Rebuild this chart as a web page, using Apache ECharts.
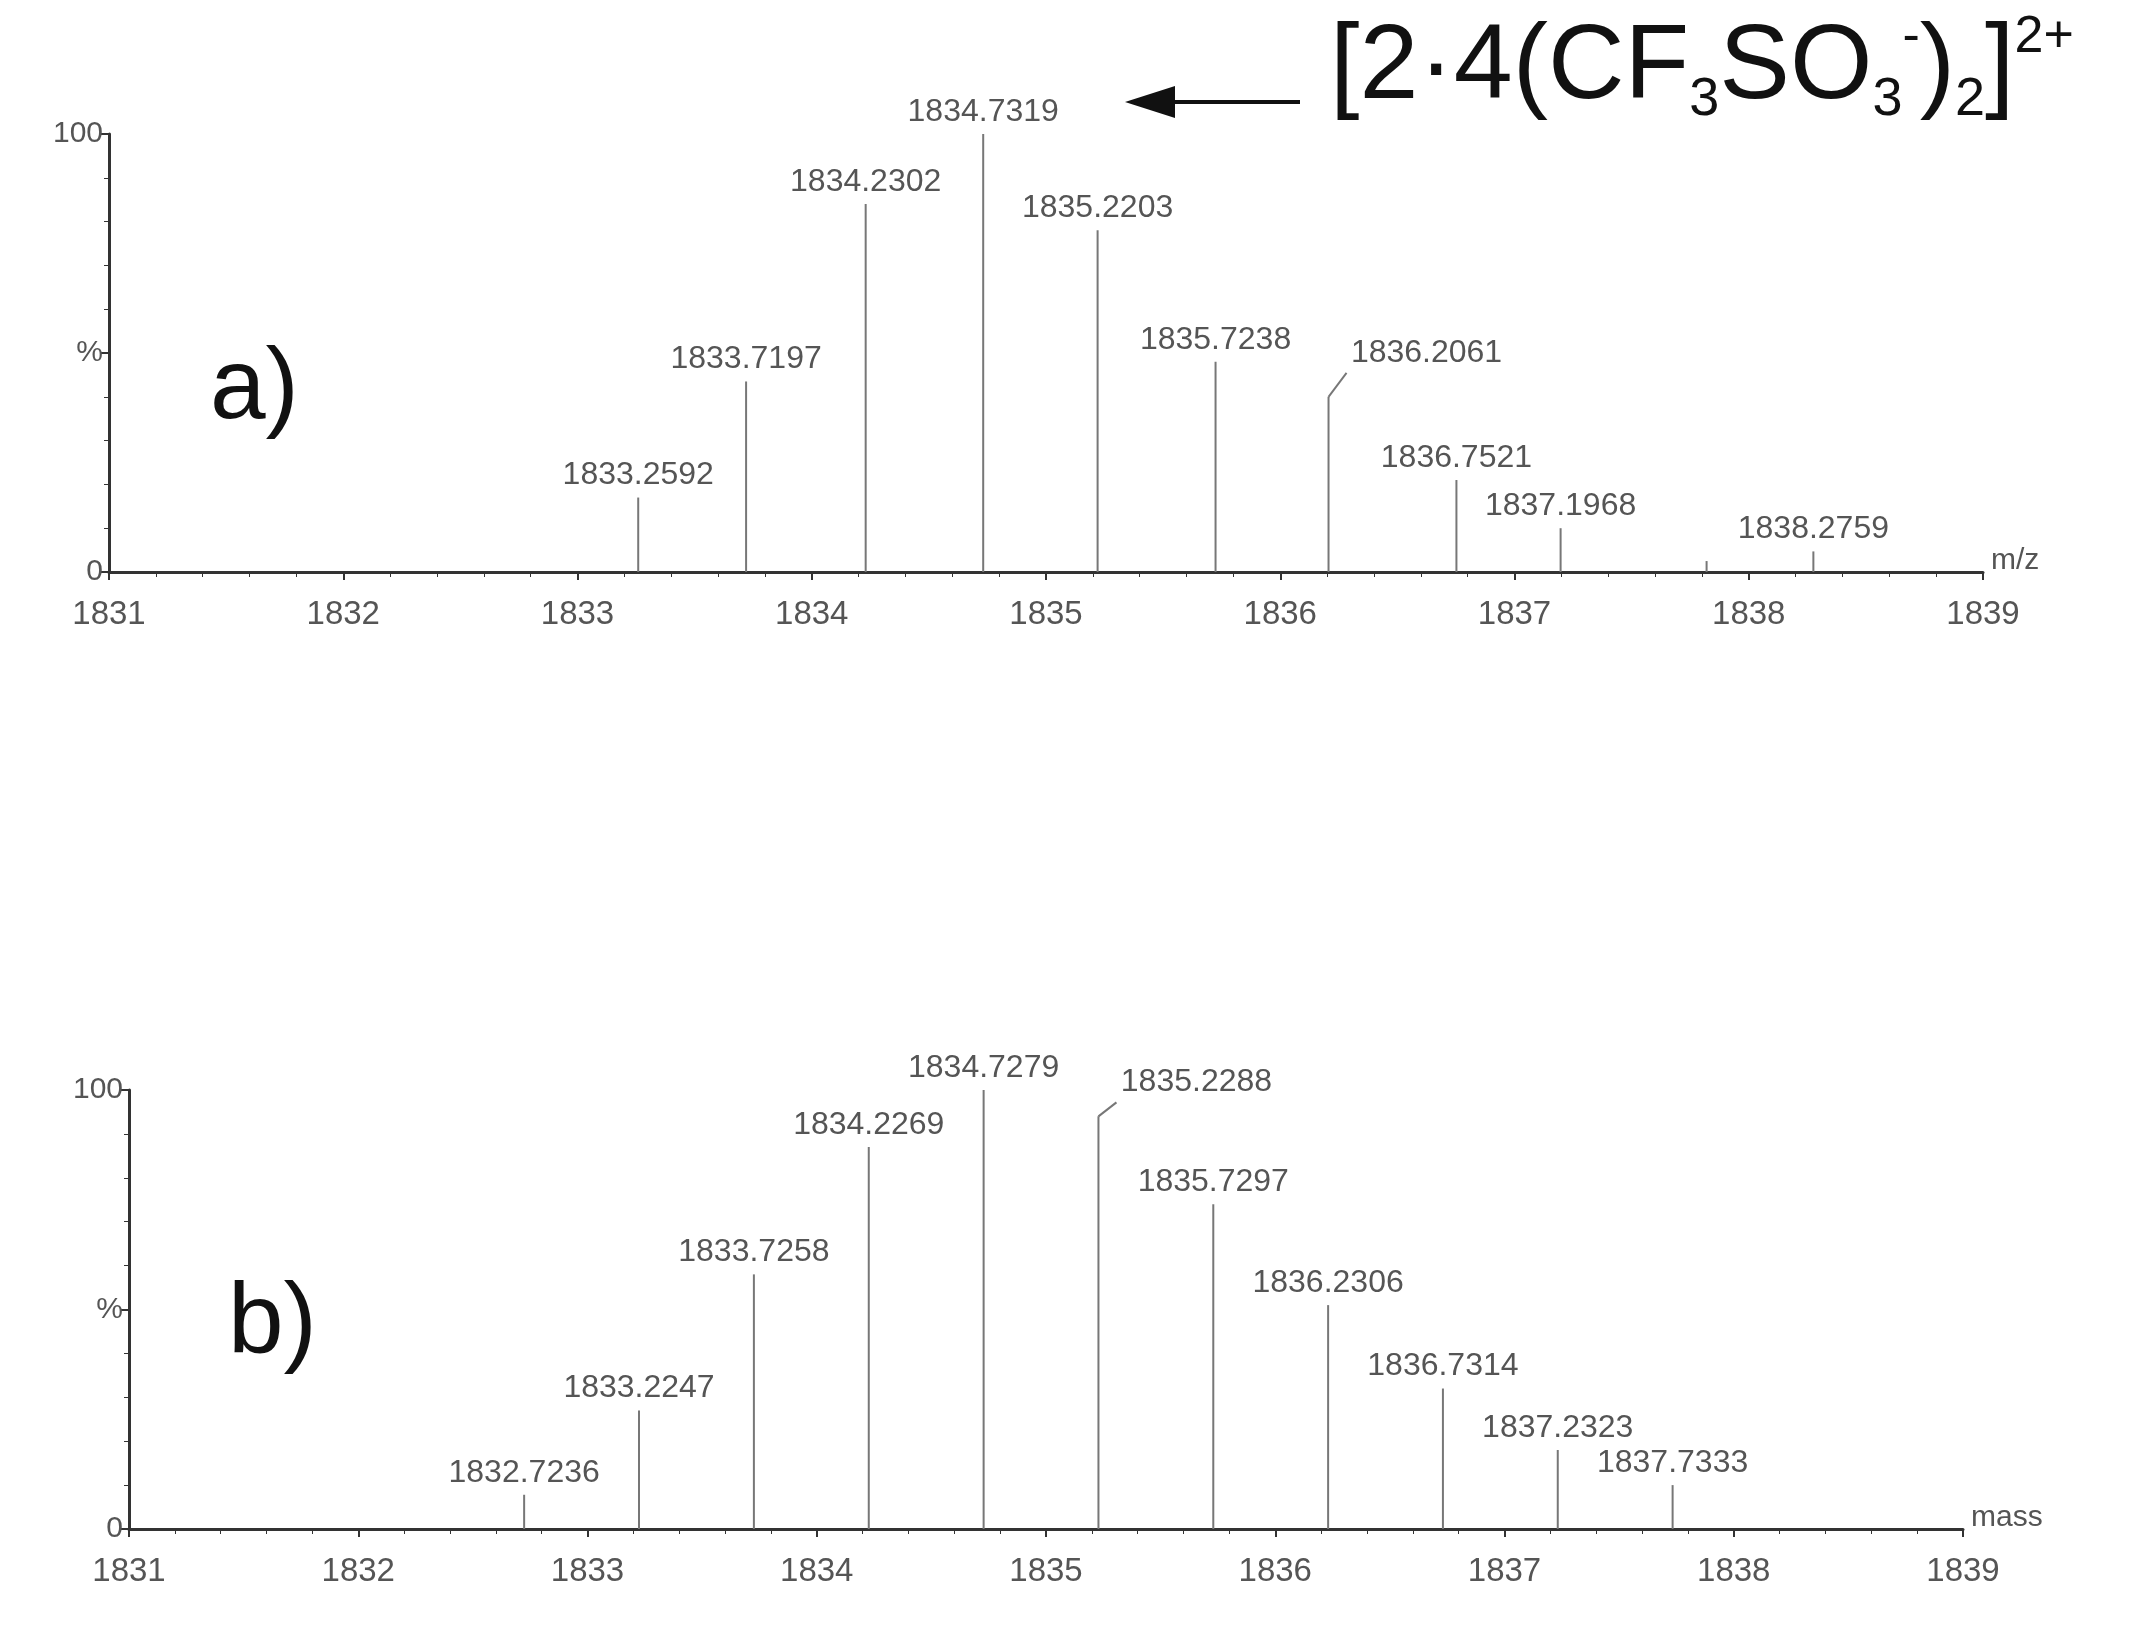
<!DOCTYPE html>
<html><head><meta charset="utf-8">
<script src="https://cdn.jsdelivr.net/npm/echarts@6/dist/echarts.min.js"></script>
<style>html,body{margin:0;background:#fff}#c{width:2137px;height:1633px}</style>
</head><body><div id="c"></div>
<script>
const massA = [1833.2592,1833.7197,1834.2302,1834.7319,1835.2203,1835.7238,1836.2061,1836.7521,1837.1968,1837.82,1838.2759];
const intA  = [17,43.5,84,100,78,48,40,21,10,2.5,4.7];
const labelA = ['1833.2592','1833.7197','1834.2302','1834.7319','1835.2203','1835.7238','1836.2061','1836.7521','1837.1968','','1838.2759'];
const massB = [1832.7236,1833.2247,1833.7258,1834.2269,1834.7279,1835.2288,1835.7297,1836.2306,1836.7314,1837.2323,1837.7333];
const intB  = [7.8,27,58,87,100,94,74,51,32,18,10];
const labelB = ['1832.7236','1833.2247','1833.7258','1834.2269','1834.7279','1835.2288','1835.7297','1836.2306','1836.7314','1837.2323','1837.7333'];

const FONT = 'Liberation Sans';
const GRAY = '#555';
function xAxis(idx, name){return {gridIndex:idx,type:'value',min:1831,max:1839,interval:1,name:name,nameGap:8,
  nameTextStyle:{fontFamily:FONT,fontSize:30,color:GRAY,verticalAlign:'top',padding:[-26,0,0,0]},
  axisLine:{lineStyle:{color:'#333',width:3}},axisTick:{length:8,lineStyle:{color:'#333',width:2}},
  minorTick:{show:true,splitNumber:5,length:5,lineStyle:{color:'#333'}},
  splitLine:{show:false},axisLabel:{fontFamily:FONT,fontSize:33,color:GRAY,margin:26,formatter:v=>String(v)}};}
function yAxis(idx){return {gridIndex:idx,type:'value',min:0,max:100,interval:50,
  axisLine:{show:true,lineStyle:{color:'#333',width:3}},axisTick:{show:true,length:8,lineStyle:{color:'#333',width:2}},
  minorTick:{show:true,splitNumber:5,length:5,lineStyle:{color:'#333'}},splitLine:{show:false},
  axisLabel:{fontFamily:FONT,fontSize:30,color:GRAY,margin:6,formatter:v=>v===50?'%':String(v)}};}
// leader-line kinks (pixel offsets of label), by series index / point index
const kinks = {0:{6:[18,-38]},1:{5:[18,-28]}};
function peaks(idx,m,v,l){
  return {type:'custom',xAxisIndex:idx,yAxisIndex:idx,data:m.map((x,i)=>[x,v[i]]),
    renderItem:(p,api)=>{const top=api.coord([api.value(0),api.value(1)]);const base=api.coord([api.value(0),0]);
      const lab=l[p.dataIndex];const k=(kinks[idx]||{})[p.dataIndex];
      const ch=[{type:'line',shape:{x1:top[0],y1:top[1],x2:base[0],y2:base[1]},style:{stroke:'#777',lineWidth:2}}];
      let lx=top[0],ly=top[1]-6;
      if(k){ch.push({type:'line',shape:{x1:top[0],y1:top[1],x2:top[0]+k[0],y2:top[1]+k[1]+14},style:{stroke:'#777',lineWidth:2}});
        lx=top[0]+k[0]+80;ly=top[1]+k[1]+10;}
      ch.push({type:'text',style:{text:lab,x:lx,y:ly,align:'center',verticalAlign:'bottom',fontFamily:FONT,fontSize:32,fill:GRAY}});
      return {type:'group',children:ch};}};
}
const chart = echarts.init(document.getElementById('c'));
chart.setOption({
  animation:false,
  grid:[{left:109,right:154,top:134,height:438},{left:129,right:174,top:1090,height:439}],
  xAxis:[xAxis(0,'m/z'),xAxis(1,'mass')],
  yAxis:[yAxis(0),yAxis(1)],
  series:[peaks(0,massA,intA,labelA),peaks(1,massB,intB,labelB)],
  graphic:[
    {type:'text',left:210,top:340,style:{text:'a)',fontFamily:FONT,fontSize:100,fill:'#111'}},
    {type:'text',left:228,top:1275,style:{text:'b)',fontFamily:FONT,fontSize:100,fill:'#111'}},
    {type:'line',shape:{x1:1300,y1:102,x2:1150,y2:102},style:{stroke:'#111',lineWidth:4}},
    {type:'polygon',shape:{points:[[1125,102],[1175,86],[1175,118]]},style:{fill:'#111'}},
    {type:'text',left:1330,top:12,style:{text:'[2·4(CF{s|3}SO{s|3}{p|-}){s|2}]{p|2+}',fontFamily:FONT,fontSize:106,fill:'#111',
      rich:{s:{fontFamily:FONT,fontSize:54,fill:'#111',padding:[62,0,0,0]},p:{fontFamily:FONT,fontSize:52,fill:'#111',padding:[0,0,62,0]}}}}
  ]
});
</script></body></html>
